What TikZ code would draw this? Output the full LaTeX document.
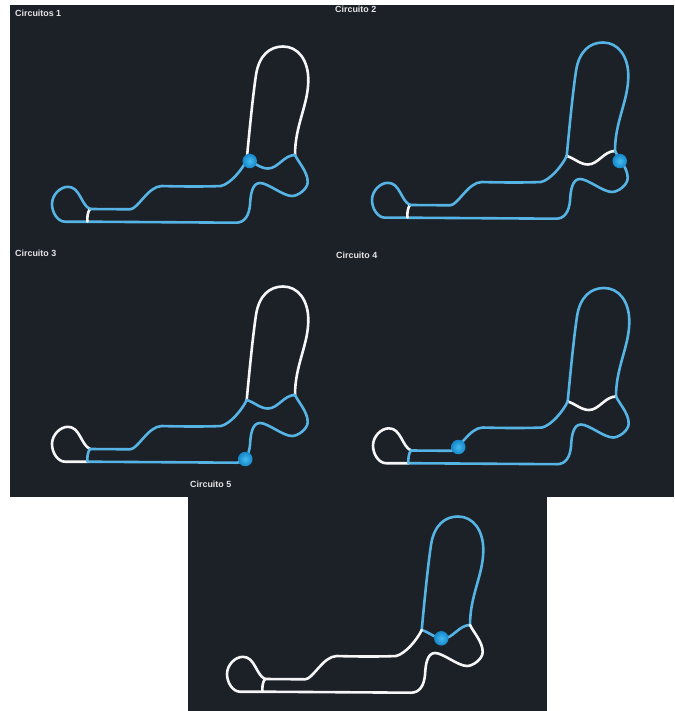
\documentclass[tikz,border=0pt]{standalone}
\usepackage{fontspec}
\setmainfont{Liberation Sans}
\definecolor{panelbg}{HTML}{1C2128}
\definecolor{trackblue}{HTML}{56B4E4}
\definecolor{trackwhite}{HTML}{F6F6F6}
\definecolor{ballin}{HTML}{45BAF0}
\definecolor{ballout}{HTML}{1587C8}
\tikzset{
    track/.style={line width=2.6pt, line cap=round, line join=round},
    titlelabel/.style={text=white!90!black, font=\bfseries\fontsize{8.9}{10}\selectfont, inner sep=0pt, anchor=west},
    ball/.style={circle, inner sep=0pt, minimum size=14.5pt, inner color=ballin, outer color=ballout}
}
% #1 offset, #2 tower, #3 chicane, #4 lower right, #5 loop, #6 link, #7 upper straight
\newcommand{\circuit}[7]{
    \begin{scope}[shift={(#1)}]
        \coordinate (J) at (246.7,160);
        \coordinate (K) at (295,155);
        \coordinate (M) at (87.5,221.7);
        \coordinate (N) at (90,209);
        \draw[track, #2] (J) .. controls (250,125) and (253,95) .. (256,75) .. controls (259,55) and (270,46.5) .. (283,46.5) .. controls (298,46.5) and (308.3,60) .. (308.3,80) .. controls (308.3,105) and (295,125) .. (K);
        \draw[track, #3] (J) .. controls (254,162) and (260,168.5) .. (268,168.5) .. controls (278,168.5) and (284,155) .. (K);
        \draw[track, #4] (K) .. controls (299,163) and (307.7,172) .. (307.7,182) .. controls (307.7,189) and (298,196) .. (292,196) .. controls (283,196) and (268,183) .. (260,183) .. controls (252,183) and (250.5,195) .. (250,205) .. controls (249,215) and (245,222.7) .. (236,222.7) -- (M);
        \draw[track, #5] (M) -- (65,221.7) .. controls (58,221.7) and (52,213) .. (52,204) .. controls (52,195) and (60,186.8) .. (68,186.8) .. controls (80,186.8) and (81,205) .. (N);
        \draw[track, #6] (N) .. controls (87.5,212) and (87,218) .. (M);
        \draw[track, #7] (N) -- (130,209.3) .. controls (138,209.3) and (148,186) .. (162,186) .. controls (175,186.5) and (205,186.8) .. (221,186) .. controls (230,184) and (242,170) .. (J);
    \end{scope}
}

\begin{document}
\begin{tikzpicture}[x=1pt, y=-1pt]
    \useasboundingbox (0,0) rectangle (674,711);
    % backdrop
    \fill[white] (0,0) rectangle (674,711);
    \fill[panelbg] (10,5) rectangle (674,497);
    \fill[panelbg] (188,497) rectangle (547,711);

    \circuit{0,0}{trackwhite}{trackblue}{trackblue}{trackblue}{trackwhite}{trackblue}
    \circuit{320,-4}{trackblue}{trackwhite}{trackblue}{trackblue}{trackwhite}{trackblue}
    \circuit{0,240}{trackwhite}{trackblue}{trackblue}{trackwhite}{trackblue}{trackblue}
    \circuit{321,241.5}{trackblue}{trackwhite}{trackblue}{trackwhite}{trackblue}{trackblue}
    \circuit{175,470}{trackblue}{trackblue}{trackwhite}{trackwhite}{trackwhite}{trackwhite}

    \node[ball] (ball1) at (249.7,161) {};
    \node[ball] (ball2) at (619.7,161) {};
    \node[ball] (ball3) at (245.3,459) {};
    \node[ball] (ball4) at (458.3,447) {};
    \node[ball] (ball5) at (441.3,638.3) {};

    \node[titlelabel] (title1) at (15,13) {Circuitos 1};
    \node[titlelabel] (title2) at (335,9) {Circuito 2};
    \node[titlelabel] (title3) at (15,253) {Circuito 3};
    \node[titlelabel] (title4) at (336,255) {Circuito 4};
    \node[titlelabel] (title5) at (190,484) {Circuito 5};
\end{tikzpicture}
\end{document}
